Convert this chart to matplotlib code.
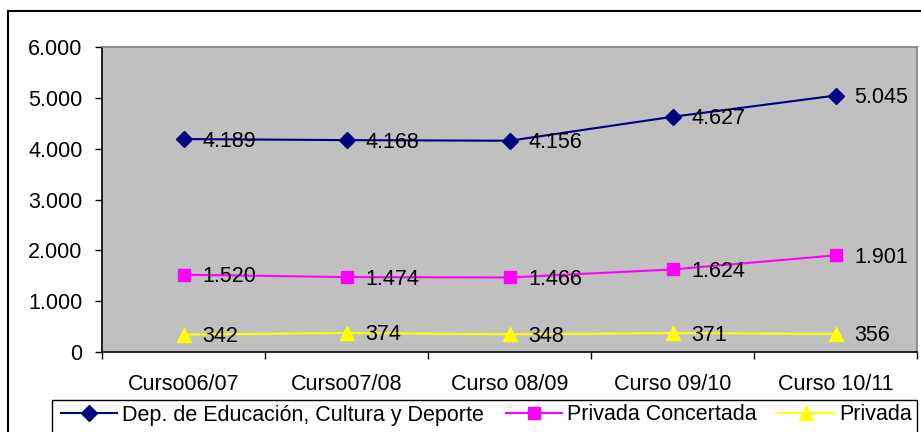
import matplotlib
matplotlib.use("Agg")
import matplotlib.pyplot as plt
from matplotlib.lines import Line2D
from matplotlib.patches import Rectangle

plt.rcParams['font.family'] = ['Liberation Sans', 'DejaVu Sans']

categories = ["Curso06/07", "Curso07/08", "Curso 08/09", "Curso 09/10", "Curso 10/11"]
dep_educacion = [4189, 4168, 4156, 4627, 5045]
privada_concertada = [1520, 1474, 1466, 1624, 1901]
privada = [342, 374, 348, 371, 356]
series_names = ["Dep. de Educación, Cultura y Deporte", "Privada Concertada", "Privada"]
y_ticks = [0, 1000, 2000, 3000, 4000, 5000, 6000]
y_tick_labels = ["0", "1.000", "2.000", "3.000", "4.000", "5.000", "6.000"]

W, H = 921, 432
fig = plt.figure(figsize=(W / 100, H / 100), dpi=100)
fig.patch.set_facecolor("white")

L, R, T, B = 102, 917, 47, 352
ax = fig.add_axes([L / W, 1 - B / H, (R - L) / W, (B - T) / H])
ax.set_facecolor("#C0C0C0")

x = list(range(len(categories)))
styles = [
    dict(color="#000080", marker="D", markersize=8),
    dict(color="#FF00FF", marker="s", markersize=8),
    dict(color="#FFFF00", marker="^", markersize=10),
]
series = [dep_educacion, privada_concertada, privada]
handles = []
for vals, st, name in zip(series, styles, series_names):
    h, = ax.plot(x, vals, color=st["color"], marker=st["marker"],
                 markersize=st["markersize"], markerfacecolor=st["color"],
                 markeredgecolor=st["color"], linewidth=1.5, label=name,
                 clip_on=False, zorder=3)
    handles.append(h)
    for xi, v in zip(x, vals):
        lab = f"{v:,}".replace(",", ".")
        ax.annotate(lab, (xi, v), xytext=(19, -2), textcoords="offset pixels",
                    ha="left", va="center", fontsize=15.5, color="black", zorder=4)

ax.set_xlim(-0.5, len(categories) - 0.5)
ax.set_ylim(0, 6000)
ax.set_yticks(y_ticks)
ax.set_yticklabels(y_tick_labels, fontsize=15.5)
ax.set_xticks(x)
ax.set_xticklabels(categories, fontsize=15.5)
ax.set_xticks([i - 0.5 for i in range(len(categories) + 1)], minor=True)
ax.tick_params(axis="x", which="major", length=0, pad=16)
ax.tick_params(axis="x", which="minor", length=5, direction="out", width=1, color="black")
ax.tick_params(axis="y", length=5, direction="out", width=1, color="black", pad=9)

for s in ["top", "right"]:
    ax.spines[s].set_color("#808080")
    ax.spines[s].set_linewidth(1.2)
for s in ["left", "bottom"]:
    ax.spines[s].set_color("black")
    ax.spines[s].set_linewidth(1.2)

# outer chart frame (partly cut by the image edges)
fig.add_artist(Line2D([8 / W, 1.0], [1 - 11 / H, 1 - 11 / H], transform=fig.transFigure,
                      color="black", linewidth=1.5))
fig.add_artist(Line2D([8 / W, 8 / W], [0, 1 - 11 / H], transform=fig.transFigure,
                      color="black", linewidth=1.5))

# legend frame extending below the image
fig.add_artist(Rectangle((52 / W, -10 / H), (917 - 52) / W, (432 - 400 + 10) / H,
                         transform=fig.transFigure, facecolor="white",
                         edgecolor="black", linewidth=1.0, zorder=1))
leg = fig.legend(handles=handles, loc="center left",
                 bbox_to_anchor=(61 / W, 1 - 415 / H), ncol=3, frameon=False,
                 fontsize=15.5, handlelength=2.6, handletextpad=0.25,
                 columnspacing=1.0, borderpad=0, borderaxespad=0)
leg.set_zorder(2)

fig.savefig("out.png", dpi=100)
